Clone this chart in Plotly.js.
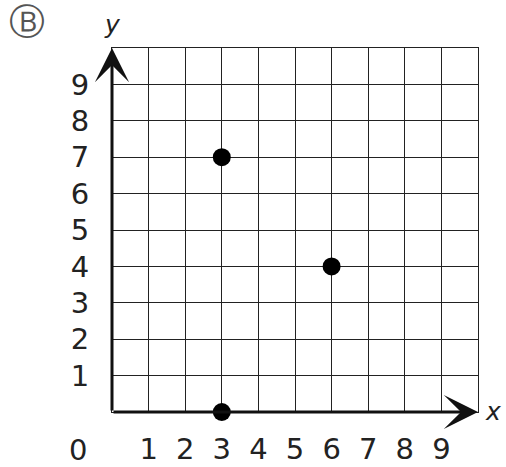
<!DOCTYPE html>
<html>
<head>
<meta charset="utf-8">
<script src="https://cdn.plot.ly/plotly-3.0.1.min.js"></script>
<style>html,body{margin:0;padding:0;background:#fff;}#chart{width:506px;height:467px;}</style>
</head>
<body>
<div id="chart"></div>
<script>
var pointX = [3, 6, 3];
var pointY = [7, 4, 0];
var gridVals = [0, 1, 2, 3, 4, 5, 6, 7, 8, 9, 10];
var xTickLabels = ['', '1', '2', '3', '4', '5', '6', '7', '8', '9', ''];
var yTickLabels = ['', '1', '2', '3', '4', '5', '6', '7', '8', '9', ''];
var originLabel = '0';
var optionLabel = '\u24B7';

var FONT = '"DejaVu Sans", Verdana, sans-serif';

var trace = {
  x: pointX, y: pointY, type: 'scatter', mode: 'markers',
  marker: {color: '#000', size: 18},
  cliponaxis: false, hoverinfo: 'none', showlegend: false
};

var axisCommon = {
  range: [0, 10], tickmode: 'array', tickvals: gridVals,
  showgrid: true, gridcolor: '#222', gridwidth: 1,
  zeroline: false, showline: true, linecolor: '#222', linewidth: 1, mirror: true,
  ticks: '', fixedrange: true,
  tickfont: {family: FONT, size: 29, color: '#222'}
};

var layout = {
  width: 506, height: 467,
  margin: {l: 112, r: 28, t: 48, b: 55},
  paper_bgcolor: '#fff', plot_bgcolor: '#fff',
  xaxis: Object.assign({}, axisCommon, {ticktext: xTickLabels, ticklabelstandoff: 11}),
  yaxis: Object.assign({}, axisCommon, {ticktext: yTickLabels, ticklabelstandoff: 16}),
  annotations: [
    {x: 10, y: 0, ax: 0, ay: 0, axref: 'x', ayref: 'y', xref: 'x', yref: 'y', text: '',
     showarrow: true, arrowhead: 3, arrowsize: 1.9, arrowwidth: 3, arrowcolor: '#111', standoff: 0},
    {x: 0, y: 10, ax: 0, ay: 0, axref: 'x', ayref: 'y', xref: 'x', yref: 'y', text: '',
     showarrow: true, arrowhead: 3, arrowsize: 1.9, arrowwidth: 3, arrowcolor: '#111', standoff: 0},
    {x: 10, y: 0, xref: 'x', yref: 'y', text: 'x', showarrow: false, xanchor: 'center', yanchor: 'middle',
     xshift: 15, yshift: 1, font: {family: FONT, size: 25, color: '#222', style: 'italic'}},
    {x: 0, y: 10, xref: 'x', yref: 'y', text: 'y', showarrow: false, xanchor: 'center', yanchor: 'middle',
     xshift: 0, yshift: 24, font: {family: FONT, size: 25, color: '#222', style: 'italic'}},
    {x: 0, y: 0, xref: 'x', yref: 'y', text: originLabel, showarrow: false, xanchor: 'center', yanchor: 'middle',
     xshift: -34, yshift: -38, borderpad: 0, font: {family: FONT, size: 29, color: '#222'}},
    {x: 0, y: 1, xref: 'paper', yref: 'paper', text: optionLabel, showarrow: false, borderpad: 0,
     xanchor: 'center', yanchor: 'middle', font: {family: FONT, size: 36, color: '#555'}}
  ]
};
// position option label in pixels via paper coords
layout.annotations[5].x = (27 - 112) / (506 - 112 - 28);
layout.annotations[5].y = 1 + (48 - 21) / (467 - 48 - 55);

Plotly.newPlot('chart', [trace], layout, {displayModeBar: false, staticPlot: true});
</script>
</body>
</html>
